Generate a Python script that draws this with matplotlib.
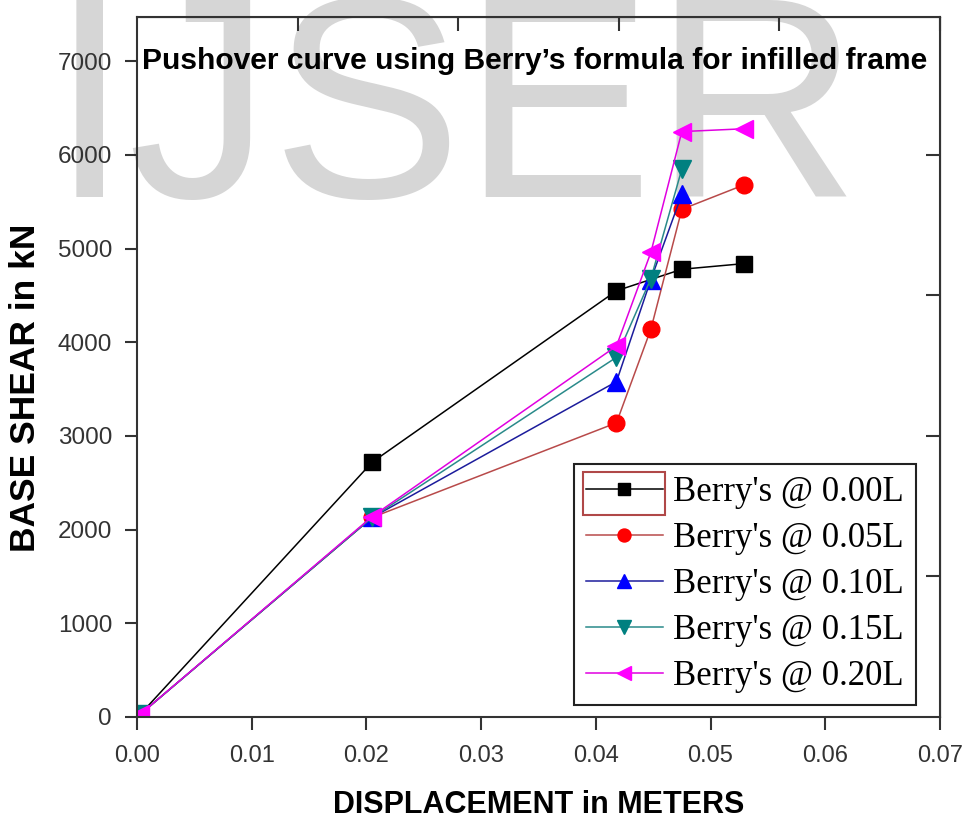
import numpy as np
import matplotlib
matplotlib.use("Agg")
import matplotlib.pyplot as plt
from matplotlib.patches import Rectangle

# data (displacement in m, base shear in kN)
x_000 = [0.0003, 0.0205, 0.0418, 0.0475, 0.0529]
y_000 = [30, 2720, 4550, 4780, 4840]

x_005 = [0.0003, 0.0205, 0.0418, 0.0448, 0.0475, 0.0529]
y_005 = [30, 2130, 3140, 4140, 5420, 5680]

x_010 = [0.0003, 0.0205, 0.0418, 0.0448, 0.0475]
y_010 = [30, 2130, 3580, 4670, 5580]

x_015 = [0.0003, 0.0205, 0.0418, 0.0448, 0.0475]
y_015 = [30, 2130, 3840, 4680, 5850]

x_020 = [0.0003, 0.0205, 0.0418, 0.0448, 0.0475, 0.0529]
y_020 = [30, 2140, 3960, 4960, 6250, 6280]

labels = ["Berry's @ 0.00L", "Berry's @ 0.05L", "Berry's @ 0.10L",
          "Berry's @ 0.15L", "Berry's @ 0.20L"]

sans = 'Liberation Sans'

fig = plt.figure(figsize=(9.65, 8.25), dpi=100)
ax = fig.add_axes([0.142, 0.131, 0.832, 0.848])
ax.patch.set_alpha(0)

# watermark behind the plot
fig.text(0.472, 1.012, "IJSER", fontsize=206, color='#d6d6d6',
         family=sans, ha='center', va='top', zorder=-1)

l0 = ax.plot(x_000, y_000, color='black', lw=1.1, marker='s', ms=11,
             mfc='black', mec='black', label=labels[0])
l1 = ax.plot(x_005, y_005, color='#b84a4a', lw=1.1, marker='o', ms=12,
             mfc='#ff0000', mec='#ff0000', label=labels[1])
l2 = ax.plot(x_010, y_010, color='#1c1c9c', lw=1.1, marker='^', ms=13,
             mfc='#0000ff', mec='#0000ff', label=labels[2])
l3 = ax.plot(x_015, y_015, color='#2a8a8a', lw=1.1, marker='v', ms=13,
             mfc='#008080', mec='#008080', label=labels[3])
l4 = ax.plot(x_020, y_020, color='#e000e0', lw=1.1, marker='<', ms=13,
             mfc='#ff00ff', mec='#ff00ff', label=labels[4])

ax.set_xlim(0, 0.07)
ax.set_ylim(0, 7470)
ax.set_xticks(np.arange(0, 0.0701, 0.01))
ax.set_xticklabels(['%.2f' % v for v in np.arange(0, 0.0701, 0.01)],
                   family=sans, fontsize=17, color='#333333')
ax.set_yticks(np.arange(0, 7001, 1000))
ax.set_yticklabels([str(v) for v in range(0, 7001, 1000)],
                   family=sans, fontsize=17.5, color='#333333')
ax.tick_params(direction='out', length=9, width=1.5, color='#333333')
ax.tick_params(axis='y', pad=9)
ax.tick_params(axis='x', pad=11)
for s in ax.spines.values():
    s.set_linewidth(1.5)
    s.set_color('#333333')

# Origin style top / right ticks, inward, no labels
top = ax.secondary_xaxis('top')
top.set_xticks(np.arange(0.014, 0.0701, 0.014))
top.tick_params(direction='in', length=10, width=1.5, color='#333333',
                labeltop=False)
right = ax.secondary_yaxis('right')
right.set_yticks(np.arange(1500, 7001, 1500))
right.tick_params(direction='in', length=10, width=1.5, color='#333333',
                  labelright=False)

ax.set_xlabel('DISPLACEMENT in METERS', family=sans,
              fontsize=22, fontweight='bold', labelpad=17)
ax.set_ylabel('BASE SHEAR in kN', family=sans,
              fontsize=25.5, fontweight='bold')
ax.yaxis.set_label_coords(-0.118, 0.47)

ax.text(0.006, 0.937, "Pushover curve using Berry\u2019s formula for infilled frame",
        transform=ax.transAxes, family=sans, fontsize=21.6,
        fontweight='bold', va='center', ha='left', color='black')

lns = l0 + l1 + l2 + l3 + l4
leg = ax.legend(lns, [l.get_label() for l in lns], loc='lower right',
                bbox_to_anchor=(0.97, 0.017),
                prop={'family': 'Liberation Serif', 'size': 25},
                fancybox=False, edgecolor='#222222', framealpha=1,
                handlelength=2.2, handletextpad=0.3, labelspacing=0.37,
                borderpad=0.35, borderaxespad=0, markerscale=0.78)
leg.get_frame().set_linewidth(1.5)

# dark red selection box around the first legend key, as in the original
fig.canvas.draw()
bb = leg.get_texts()[0].get_window_extent(fig.canvas.get_renderer())
fig.add_artist(Rectangle((bb.x0 - 90, bb.y0 - 6), 82, bb.height + 10,
                         transform=None, fill=False, edgecolor='#b04848',
                         lw=1.5))

plt.savefig("out.png", dpi=100)
